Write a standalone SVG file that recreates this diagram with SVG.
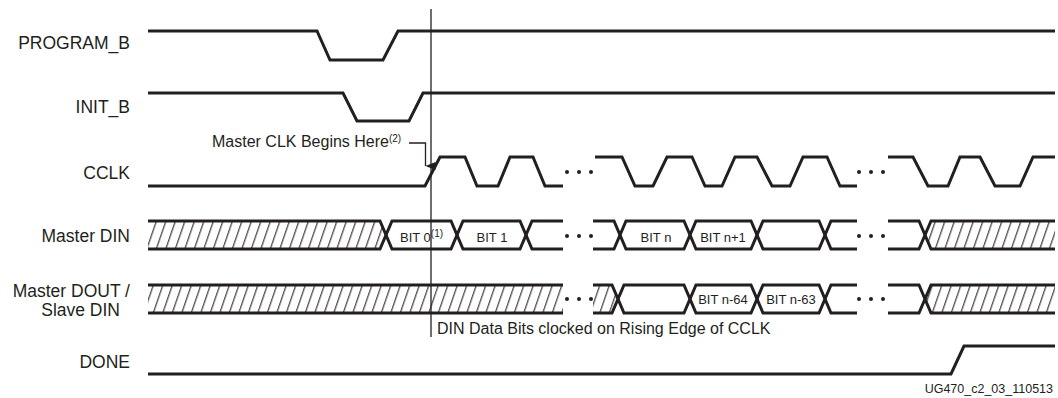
<svg xmlns="http://www.w3.org/2000/svg" width="1058" height="398" viewBox="0 0 1058 398">
<style>
  .sig { fill: none; stroke: #231f20; stroke-width: 3; stroke-linejoin: miter; }
  .lbl { font-family: "Liberation Sans", Arial, sans-serif; font-size: 17.5px; fill: #231f20; text-anchor: end; }
  .note { font-family: "Liberation Sans", Arial, sans-serif; font-size: 16px; fill: #231f20; }
  .bit { font-family: "Liberation Sans", Arial, sans-serif; font-size: 13px; fill: #231f20; text-anchor: middle; }
  .sup { font-size: 10px; }
  .hatch { fill: url(#hatch); stroke: none; }
  .dot { fill: #231f20; }
  .thin { fill: none; stroke: #231f20; stroke-width: 1.3; }
</style>
<defs>
  <pattern id="hatch" patternUnits="userSpaceOnUse" width="9.5" height="10" patternTransform="skewX(-19)">
    <rect x="4" y="0" width="1.1" height="10" fill="#231f20"/>
  </pattern>
  <marker id="arrow" markerWidth="8" markerHeight="10" refX="4" refY="10" orient="auto" markerUnits="userSpaceOnUse" viewBox="0 0 8 10">
    <path d="M0,0 L8,0 L4,10 Z" fill="#231f20"/>
  </marker>
</defs>
<rect width="1058" height="398" fill="#ffffff"/>

<g id="program_b">
  <text class="lbl" x="130" y="49">PROGRAM_B</text>
  <path class="sig" d="M148,31 H317 L330,60 H383 L398,31 H1055"/>
</g>

<g id="init_b">
  <text class="lbl" x="130" y="113">INIT_B</text>
  <path class="sig" d="M148,93 H343 L357,121 H409 L423,93 H1055"/>
</g>

<g id="cclk">
  <text class="lbl" x="130" y="179">CCLK</text>
  <path class="sig" d="M148,186 H425 L440,157 H465 L477,186 H498 L510,157 H533 L545,186 H563"/>
  <path class="sig" d="M595,157 H622 L635,186 H653 L667,157 H692 L705,186 H722 L735,157 H757 L772,186 H790 L803,157 H827 L840,186 H857"/>
  <path class="sig" d="M888,157 H913 L928,186 H948 L960,157 H980 L995,186 H1020 L1033,157 H1055"/>
  <circle class="dot" cx="567" cy="172" r="2"/><circle class="dot" cx="579" cy="172" r="2"/><circle class="dot" cx="591" cy="172" r="2"/>
  <circle class="dot" cx="859" cy="172" r="2"/><circle class="dot" cx="871" cy="172" r="2"/><circle class="dot" cx="883" cy="172" r="2"/>
</g>

<g id="master_din">
  <text class="lbl" x="130" y="242">Master DIN</text>
  <polygon class="hatch" points="148,221 380,221 386,235 380,249 148,249"/>
  <polygon class="hatch" points="925,235 931,221 1055,221 1055,249 931,249"/>
  <path class="sig" d="M148,221 H380 L392,249 H451 L463,221 H520 L532,249 H563"/>
  <path class="sig" d="M148,249 H380 L392,221 H451 L463,249 H520 L532,221 H563"/>
  <path class="sig" d="M593,221 H614 L626,249 H684 L696,221 H751 L763,249 H819 L831,221 H857"/>
  <path class="sig" d="M593,249 H614 L626,221 H684 L696,249 H751 L763,221 H819 L831,249 H857"/>
  <path class="sig" d="M888,221 H919 L931,249 H1055"/>
  <path class="sig" d="M888,249 H919 L931,221 H1055"/>
  <circle class="dot" cx="567" cy="236" r="2"/><circle class="dot" cx="579" cy="236" r="2"/><circle class="dot" cx="591" cy="236" r="2"/>
  <circle class="dot" cx="859" cy="236" r="2"/><circle class="dot" cx="871" cy="236" r="2"/><circle class="dot" cx="883" cy="236" r="2"/>
  <text class="bit" x="400" y="242" style="text-anchor:start">BIT 0<tspan class="sup" dy="-5">(1)</tspan></text>
  <text class="bit" x="492" y="242">BIT 1</text>
  <text class="bit" x="656" y="242">BIT n</text>
  <text class="bit" x="723" y="242">BIT n+1</text>
</g>

<g id="master_dout">
  <text class="lbl" x="130" y="297">Master DOUT /</text>
  <text class="lbl" x="120" y="316">Slave DIN</text>
  <polygon class="hatch" points="148,285 563,285 563,313 148,313"/>
  <polygon class="hatch" points="593,285 612,285 618,299 612,313 593,313"/>
  <polygon class="hatch" points="925,299 931,285 1055,285 1055,313 931,313"/>
  <path class="sig" d="M148,285 H563"/>
  <path class="sig" d="M148,313 H563"/>
  <path class="sig" d="M593,285 H612 L624,313 H684 L696,285 H751 L763,313 H819 L831,285 H857"/>
  <path class="sig" d="M593,313 H612 L624,285 H684 L696,313 H751 L763,285 H819 L831,313 H857"/>
  <path class="sig" d="M888,285 H919 L931,313 H1055"/>
  <path class="sig" d="M888,313 H919 L931,285 H1055"/>
  <circle class="dot" cx="567" cy="299" r="2"/><circle class="dot" cx="579" cy="299" r="2"/><circle class="dot" cx="591" cy="299" r="2"/>
  <circle class="dot" cx="859" cy="299" r="2"/><circle class="dot" cx="871" cy="299" r="2"/><circle class="dot" cx="883" cy="299" r="2"/>
  <text class="bit" x="723" y="303.5">BIT n-64</text>
  <text class="bit" x="791" y="303.5">BIT n-63</text>
</g>

<g id="done">
  <text class="lbl" x="130" y="368">DONE</text>
  <path class="sig" d="M148,374 H951 L964,346 H1055"/>
</g>

<g id="connectors">
  <path class="thin" d="M431,9 V337"/>
  <path class="thin" d="M409,143 H425.5 V166" marker-end="url(#arrow)"/>
</g>

<g id="annotations">
  <text class="note" x="212" y="147">Master CLK Begins Here<tspan class="sup" dy="-5">(2)</tspan></text>
  <text class="note" x="437" y="334">DIN Data Bits clocked on Rising Edge of CCLK</text>
  <text class="note" x="1053" y="393" style="font-size:12.5px;text-anchor:end">UG470_c2_03_110513</text>
</g>
</svg>
